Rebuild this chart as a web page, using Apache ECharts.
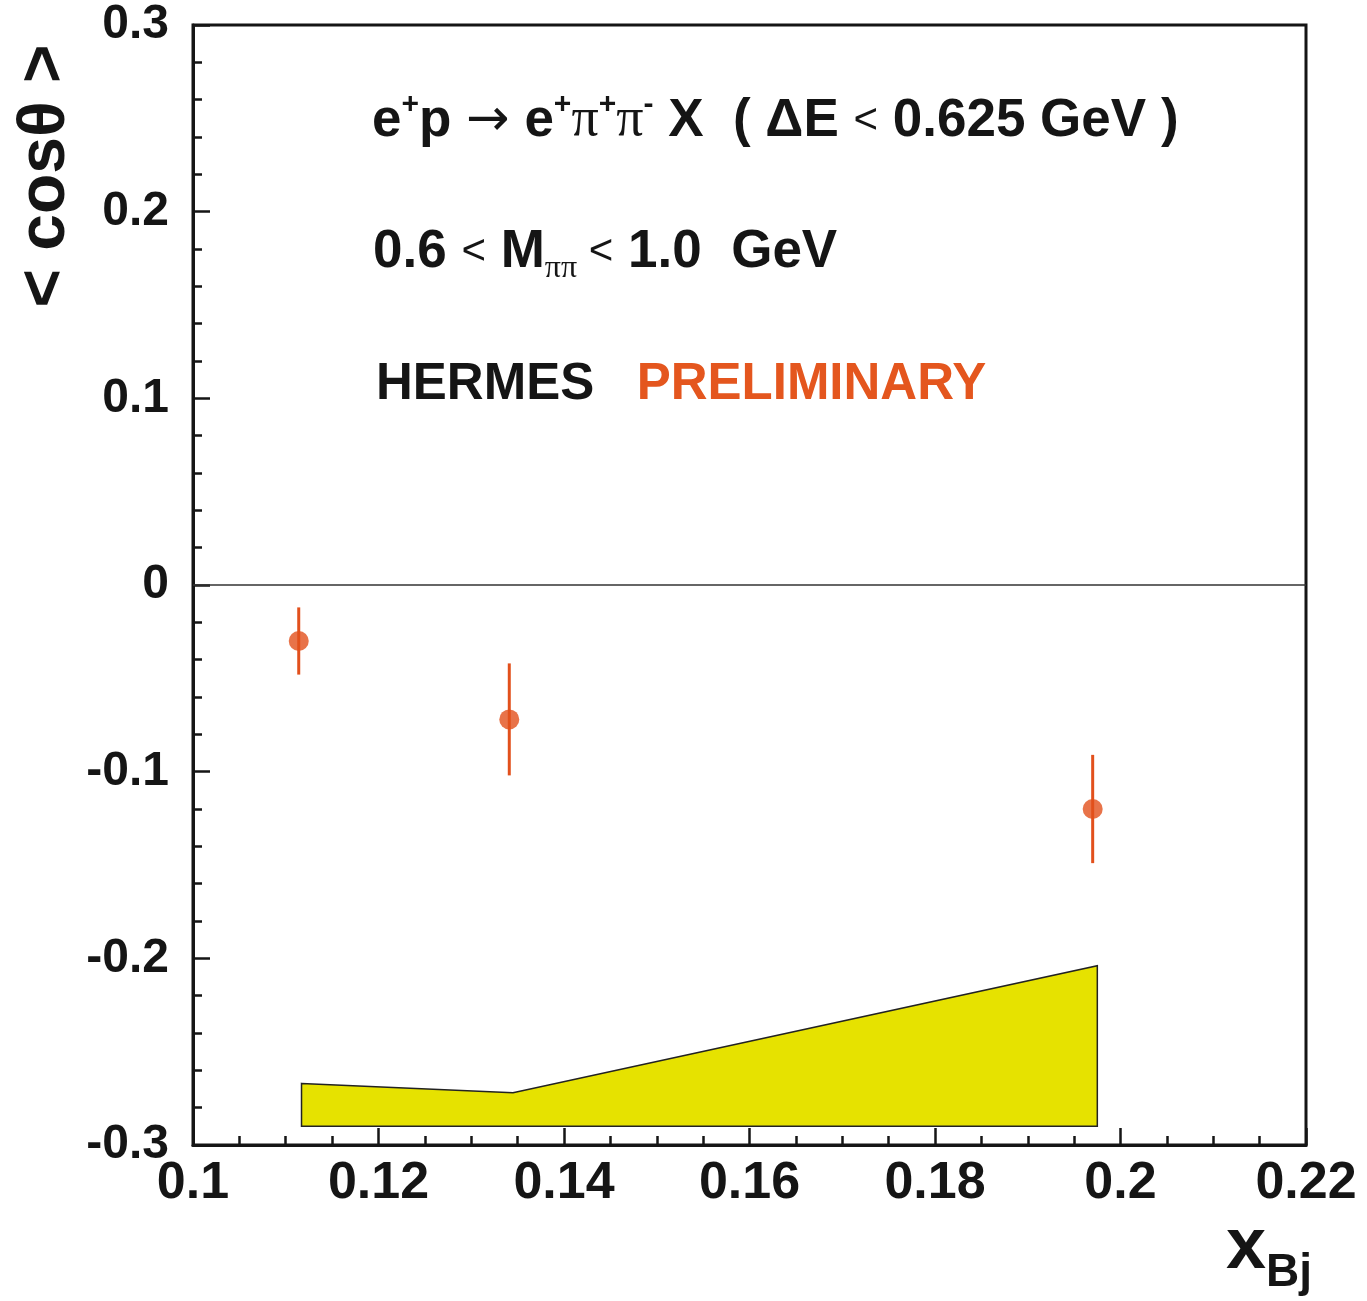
<!DOCTYPE html>
<html>
<head>
<meta charset="utf-8">
<script src="https://cdn.jsdelivr.net/npm/echarts@6/dist/echarts.min.js"></script>
<style>
  html, body { margin: 0; padding: 0; background: #fff; }
  #chart { width: 1367px; height: 1301px; }
</style>
</head>
<body>
<div id="chart"></div>
<script>
// measured points: x_Bj, <cos theta>, stat. error
var xVals = [0.1114, 0.1341, 0.197];
var yVals = [-0.030, -0.072, -0.120];
var yErr = [0.018, 0.030, 0.029];

// systematic band
var sysX = [0.1117, 0.1345, 0.1975];
var sysHi = [-0.267, -0.272, -0.204];
var sysLo = [-0.290, -0.290, -0.290];

var xTicks = { min: 0.1, max: 0.22, step: 0.02 };
var yTicks = { min: -0.3, max: 0.3, step: 0.1 };

var ink = '#151515';
var red = '#e2501c';
var font = '"Liberation Sans", Arial, sans-serif';

var myChart = echarts.init(document.getElementById('chart'));

function axisCommon(fontSize, margin, minorSplit) {
    return {
        type: 'value',
        axisLine: { show: true, onZero: false, lineStyle: { color: ink, width: 3 } },
        axisTick: { show: true, inside: true, length: 17, lineStyle: { color: ink, width: 2.5 } },
        minorTick: { show: true, splitNumber: minorSplit, length: 9, lineStyle: { color: ink, width: 2.5 } },
        splitLine: { show: false },
        axisLabel: {
            color: ink, fontSize: fontSize, fontWeight: 'bold',
            fontFamily: font, margin: margin
        }
    };
}

var xAxis = axisCommon(52, 13, 4);
xAxis.min = xTicks.min;
xAxis.max = xTicks.max;
xAxis.interval = xTicks.step;

var yAxis = axisCommon(48, 24, 5);
yAxis.min = yTicks.min;
yAxis.max = yTicks.max;
yAxis.interval = yTicks.step;

var option = {
    backgroundColor: '#fff',
    animation: false,
    grid: {
        left: 193, right: 61, top: 25, bottom: 156,
        show: true, borderColor: ink, borderWidth: 3, backgroundColor: 'transparent'
    },
    xAxis: xAxis,
    yAxis: yAxis,
    graphic: [
        {
            type: 'text', left: 372, top: 90,
            style: {
                text: '{b|e}{sup|+}{b|p }{ar|→}{b| e}{sup|+}{pi|π}{sup|+}{pi|π}{sup|-}{b| X  ( ΔE }{lt|<}{b| 0.625 GeV )}',
                rich: {
                    b: { fontSize: 53, fontWeight: 'bold', fontFamily: font, fill: ink },
                    sup: { fontSize: 30, fontWeight: 'bold', fontFamily: font, fill: ink, padding: [0, 0, 32, 0] },
                    pi: { fontSize: 54, fontFamily: '"Liberation Serif", serif', fill: ink },
                    ar: { fontSize: 52, fontFamily: '"DejaVu Sans", sans-serif', fill: ink },
                    lt: { fontSize: 42, fontFamily: font, fill: ink }
                }
            }
        },
        {
            type: 'text', left: 373, top: 226,
            style: {
                text: '{b|0.6 }{lt|<}{b| M}{sub|ππ}{lt| <}{b| 1.0  GeV}',
                rich: {
                    b: { fontSize: 53, fontWeight: 'bold', fontFamily: font, fill: ink },
                    sub: { fontSize: 32, fontFamily: '"Liberation Serif", serif', fill: ink, padding: [32, 0, 0, 0] },
                    lt: { fontSize: 42, fontFamily: font, fill: ink }
                }
            }
        },
        {
            type: 'text', left: 376, top: 359,
            style: {
                text: '{b|HERMES}{o|   PRELIMINARY}',
                rich: {
                    b: { fontSize: 51, fontWeight: 'bold', fontFamily: font, fill: ink },
                    o: { fontSize: 51, fontWeight: 'bold', fontFamily: font, fill: '#e4561e' }
                }
            }
        },
        {
            type: 'text', x: 46, y: 176, rotation: Math.PI / 2,
            style: {
                text: '< cosθ >', fontSize: 66, fontWeight: 'bold', fontFamily: font, fill: ink,
                align: 'center', verticalAlign: 'middle'
            }
        },
        {
            type: 'text', left: 1226, top: 1212,
            style: {
                text: '{x|x}{sub|Bj}',
                rich: {
                    x: { fontSize: 72, fontWeight: 'bold', fontFamily: font, fill: ink },
                    sub: { fontSize: 46, fontWeight: 'bold', fontFamily: font, fill: ink, padding: [50, 0, 0, 0] }
                }
            }
        }
    ],
    series: [
        {
            // systematic uncertainty band
            type: 'custom',
            data: sysX.map(function (x, i) { return [x, sysHi[i]]; }),
            z: 1,
            silent: true,
            renderItem: function (params, api) {
                if (params.dataIndex !== 0) return null;
                var pts = [];
                for (var i = 0; i < sysX.length; i++) pts.push(api.coord([sysX[i], sysHi[i]]));
                for (var j = sysX.length - 1; j >= 0; j--) pts.push(api.coord([sysX[j], sysLo[j]]));
                return {
                    type: 'polygon',
                    shape: { points: pts },
                    style: { fill: '#e6e200', stroke: '#222', lineWidth: 1.5 }
                };
            }
        },
        {
            // error bars
            type: 'custom',
            data: xVals.map(function (x, i) { return [x, yVals[i], yErr[i]]; }),
            z: 3,
            renderItem: function (params, api) {
                var x = api.value(0), y = api.value(1), e = api.value(2);
                var p1 = api.coord([x, y + e]);
                var p2 = api.coord([x, y - e]);
                return {
                    type: 'line',
                    shape: { x1: p1[0], y1: p1[1], x2: p2[0], y2: p2[1] },
                    style: { stroke: red, lineWidth: 3 }
                };
            }
        },
        {
            type: 'scatter',
            data: xVals.map(function (x, i) { return [x, yVals[i]]; }),
            symbol: 'circle',
            symbolSize: 20,
            z: 4,
            itemStyle: { color: red },
            markLine: {
                silent: true,
                symbol: 'none',
                label: { show: false },
                lineStyle: { color: '#333', width: 1.5, type: 'solid' },
                data: [{ yAxis: 0 }]
            }
        }
    ]
};

myChart.setOption(option);
</script>
</body>
</html>
